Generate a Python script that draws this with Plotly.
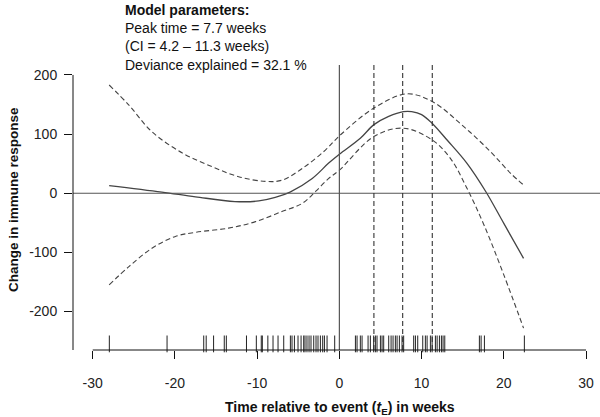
import plotly.graph_objects as go

# ---- data ----
fit_x = [-28.0, -21.6, -17.5, -12.7, -9.8, -7.8, -6.0, -3.3, -1.3, 0.0, 2.55, 4.2, 6.0, 7.8, 8.8, 10.0, 11.3, 13.1, 15.5, 17.8, 20.0, 22.4]
fit_y = [13, 2, -6, -14, -13, -7, 2, 25, 51, 66, 93, 116, 130, 138, 138, 133, 118, 90, 51, 3, -51, -110]

upper_x = [-28.0, -25.6, -22.8, -19.1, -15.5, -12.25, -9.0, -7.0, -4.5, -1.7, 0.0, 4.2, 8.2, 11.3, 15.1, 18.4, 20.8, 22.4]
upper_y = [183, 149, 104, 68, 45, 28, 20, 22, 42, 73, 97, 144, 168, 155, 113, 70, 34, 14]

lower_x = [-28.0, -25.6, -22.8, -19.95, -17.5, -13.5, -10.2, -7.0, -4.5, -2.9, -1.3, 0.0, 4.2, 7.8, 11.3, 13.5, 15.5, 17.6, 20.0, 22.4]
lower_y = [-155, -124, -93, -73, -66, -59, -48, -31, -17, 3, 25, 39, 96, 110, 90, 59, 9, -54, -138, -228]

rug_x = [-27.98, -20.96, -16.5, -16.2, -15.3, -14.0, -13.75, -11.3, -10.1, -9.5, -9.37, -8.7,
         -8.07, -7.46, -6.77, -5.96, -5.76, -5.47, -5.03, -4.66, -4.34, -4.18, -3.94, -3.69,
         -3.45, -3.12, -2.84, -2.6, -2.31, -2.03, -1.82, -1.5, -0.57, 1.95, 2.15, 2.55, 2.76,
         3.49, 3.77, 4.17, 4.38, 4.58, 4.99, 5.19, 5.39, 6.0, 6.29, 6.53, 6.81, 7.02, 7.3,
         7.62, 7.82, 9.04, 9.25, 9.53, 10.14, 10.46, 10.67, 11.07, 11.28, 11.68, 11.89,
         12.17, 12.41, 12.61, 12.82, 17.03, 17.24, 17.64, 22.5]
rug_level = -254.7

event_time = [0]
peak_lines = [4.2, 7.7, 11.3]

x_ticks = [-30, -20, -10, 0, 10, 20, 30]
x_tick_labels = ["-30", "-20", "-10", "0", "10", "20", "30"]
y_ticks = [-200, -100, 0, 100, 200]
y_tick_labels = ["-200", "-100", "0", "100", "200"]
x_range = [-32.4, 31.7]
y_range = [-265, 216.8]

font = "Arial, Liberation Sans, sans-serif"
dash = "5px,3px"

fig = go.Figure()

fig.add_trace(go.Scatter(x=upper_x, y=upper_y, mode="lines", line=dict(color="#444", width=1.1, dash=dash, shape="spline"), hoverinfo="skip"))
fig.add_trace(go.Scatter(x=lower_x, y=lower_y, mode="lines", line=dict(color="#444", width=1.1, dash=dash, shape="spline"), hoverinfo="skip"))
fig.add_trace(go.Scatter(x=fit_x, y=fit_y, mode="lines", line=dict(color="#444", width=1.3, shape="spline"), hoverinfo="skip"))
fig.add_trace(go.Scatter(x=rug_x, y=[rug_level] * len(rug_x), mode="markers",
                         marker=dict(symbol="line-ns", size=12, line=dict(color="#222", width=1)),
                         cliponaxis=False, hoverinfo="skip"))

fig.add_hline(y=0, line=dict(color="#555", width=1.2))
for v in event_time:
    fig.add_vline(x=v, line=dict(color="#555", width=1.2))
for v in peak_lines:
    fig.add_vline(x=v, line=dict(color="#333", width=1.1, dash=dash))

# axis lines (R style, spanning ticks)
fig.add_shape(type="line", xref="x", yref="paper", x0=x_ticks[0], x1=x_ticks[-1], y0=0, y1=0, line=dict(color="#111", width=1))
fig.add_shape(type="line", xref="paper", yref="y", x0=0, x1=0, y0=y_ticks[-1], y1=y_range[0], line=dict(color="#111", width=1))

fig.update_layout(
    width=600, height=417,
    margin=dict(l=73, r=0, t=65, b=67),
    paper_bgcolor="white", plot_bgcolor="white",
    showlegend=False,
    font=dict(family=font, size=14, color="#111"),
    xaxis=dict(range=x_range, tickvals=x_ticks, ticktext=x_tick_labels, ticks="outside", ticklen=8, tickcolor="#111",
               showgrid=False, zeroline=False, showline=False, ticklabelstandoff=12, automargin=False,
               tickfont=dict(size=14, color="#222")),
    yaxis=dict(range=y_range, tickvals=y_ticks, ticktext=y_tick_labels, ticks="outside", ticklen=8, tickcolor="#111",
               showgrid=False, zeroline=False, showline=False, ticklabelstandoff=4, automargin=False,
               tickfont=dict(size=14, color="#222")),
)

fig.add_annotation(xref="paper", yref="paper", x=(340 - 73) / 527, y=(350 - 408) / 285,
                   text="<b>Time relative to event (<i>t</i><sub>E</sub>) in weeks</b>",
                   showarrow=False, xanchor="center", yanchor="middle", font=dict(size=14, color="#111"))
fig.add_annotation(xref="paper", yref="paper", x=(13 - 73) / 527, y=(350 - 200) / 285,
                   text="<b>Change in immune response</b>", textangle=-90,
                   showarrow=False, xanchor="center", yanchor="middle", font=dict(size=13.5, color="#111"))
fig.add_annotation(xref="paper", yref="paper", x=(123 - 73) / 527, y=(350 - 0) / 285,
                   text="<b>Model parameters:</b><br>Peak time = 7.7 weeks<br>(CI = 4.2 \u2013 11.3 weeks)<br>Deviance explained = 32.1 %",
                   showarrow=False, xanchor="left", yanchor="top", align="left", font=dict(size=14, color="#111"))

fig.write_html("out.html", config={"displayModeBar": False},
               post_script="document.body.style.margin='0px';document.body.style.overflow='hidden';")
